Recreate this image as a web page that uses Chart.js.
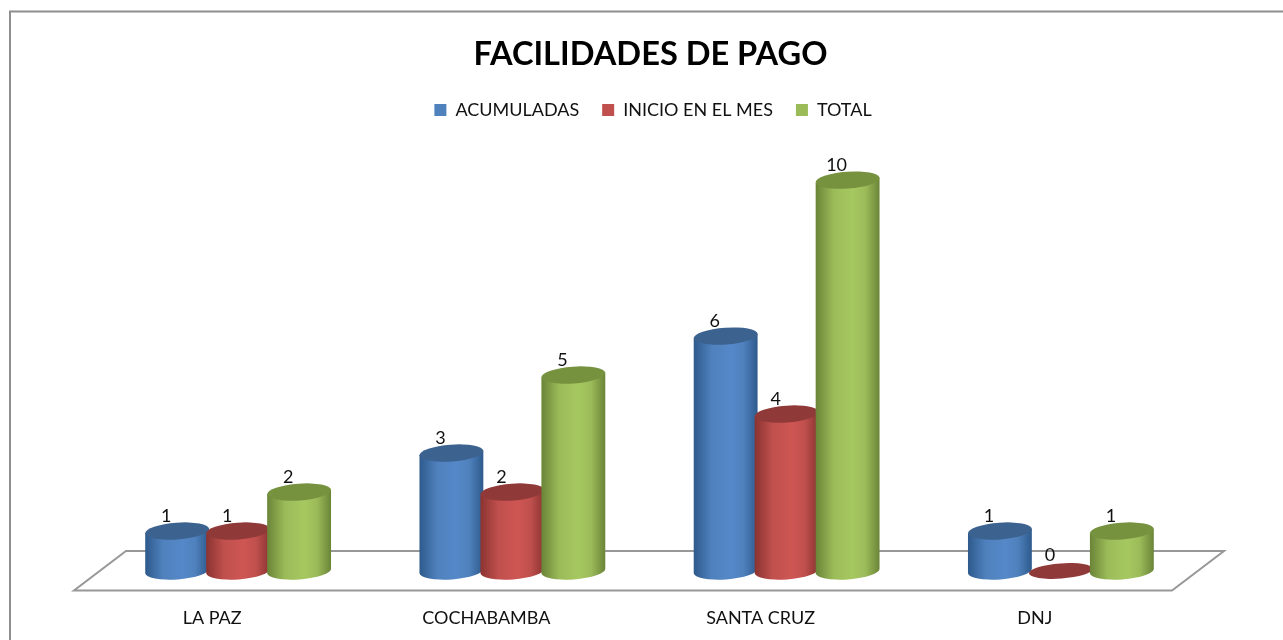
<!DOCTYPE html>
<html>
<head>
<meta charset="utf-8">
<style>html,body{margin:0;padding:0;background:#fff;overflow:hidden}canvas{display:block}</style>
<script src="https://cdn.jsdelivr.net/npm/chart.js@4/dist/chart.umd.min.js"></script>
</head>
<body>
<canvas id="c" width="1283" height="640"></canvas>
<script>
const titleText = "FACILIDADES DE PAGO";
const categories = ["LA PAZ", "COCHABAMBA", "SANTA CRUZ", "DNJ"];
const acumuladas = [1, 3, 6, 1];
const inicioEnElMes = [1, 2, 4, 0];
const total = [2, 5, 10, 1];
const FONT = "Lato, Carlito, sans-serif";

const palette = {
  "ACUMULADAS": {main:"#4F81BD", edge:"#2E5A8C", light:"#5588C8", top:"#3C628F"},
  "INICIO EN EL MES": {main:"#C0504D", edge:"#8A3331", light:"#CE5653", top:"#8F3A38"},
  "TOTAL": {main:"#9BBB59", edge:"#6A8437", light:"#A6C860", top:"#76923F"}
};

// Each bar element, positioned by the Chart.js scales, is painted as a cylinder
function cylinder(ctx, el, pal){
  const rx = el.width/2, ry = 8.4, tilt = -0.072;
  const dx = rx*Math.cos(tilt), dy = rx*Math.sin(tilt);
  const cx = el.x, top = el.y, base = el.base + 1;
  const tall = base - top > 2;
  ctx.save();
  if (tall) {
    const g = ctx.createLinearGradient(cx-rx, 0, cx+rx, 0);
    g.addColorStop(0, pal.edge);
    g.addColorStop(0.28, pal.main);
    g.addColorStop(0.58, pal.light);
    g.addColorStop(0.78, pal.main);
    g.addColorStop(1, pal.edge);
    ctx.fillStyle = g;
    ctx.beginPath();
    ctx.moveTo(cx-dx, top-dy);
    ctx.lineTo(cx-dx, base-dy);
    ctx.ellipse(cx, base, rx, ry, tilt, Math.PI, 0, true);
    ctx.lineTo(cx+dx, top+dy);
    ctx.closePath();
    ctx.fill();
  }
  ctx.fillStyle = pal.top;
  ctx.beginPath();
  ctx.ellipse(cx, tall ? top : base, rx, tall ? ry : 7.6, tilt, 0, Math.PI*2);
  ctx.fill();
  ctx.restore();
}
Chart.BarElement.prototype.draw = function(){};

const framePlugin = {
  id: "frame",
  beforeInit(chart){
    const fit = chart.legend.fit;
    chart.legend.fit = function(){ fit.call(this); this.height += 51; };
    const shift = (box, dx) => {
      const d = box.draw;
      box.draw = function(){ const c = this.ctx; c.save(); c.translate(dx, 0); d.call(this); c.restore(); };
    };
    shift(chart.legend, 3.5);
    shift(chart.titleBlock, 1);
  },
  beforeDatasetsDraw(chart){
    const {ctx, chartArea:a, scales:{y}} = chart;
    const y0 = y.getPixelForValue(0);
    ctx.save();
    ctx.strokeStyle = "#8E8E8E"; ctx.lineWidth = 2;
    ctx.beginPath(); ctx.moveTo(10, 640); ctx.lineTo(10, 11.5); ctx.lineTo(1283, 11.5); ctx.stroke();
    ctx.strokeStyle = "#989898"; ctx.lineWidth = 2;
    ctx.beginPath();
    ctx.moveTo(a.left-27, y0+20.5); ctx.lineTo(a.right-26, y0+20.5);
    ctx.lineTo(a.right+26, y0-19); ctx.lineTo(a.left+25, y0-19);
    ctx.closePath(); ctx.stroke();
    ctx.restore();
  },
  afterDatasetsDraw(chart){
    const {ctx} = chart;
    chart.data.datasets.forEach((ds, i) => {
      chart.getDatasetMeta(i).data.forEach(el => cylinder(ctx, el, palette[ds.label]));
    });
    ctx.save();
    ctx.font = "18px " + FONT; ctx.fillStyle = "#111"; ctx.textAlign = "center"; ctx.textBaseline = "middle";
    chart.data.datasets.forEach((ds, i) => {
      chart.getDatasetMeta(i).data.forEach((el, j) => {
        ctx.fillText(String(ds.data[j]), el.x - 11, el.y - 14.5);
      });
    });
    ctx.restore();
  }
};

const mk = (label, data) => ({label, data,
  backgroundColor: palette[label].main, borderWidth: 0, categoryPercentage: 0.667, barPercentage: 1.05});

new Chart(document.getElementById("c"), {
  type: "bar",
  data: { labels: categories, datasets: [
    mk("ACUMULADAS", acumuladas),
    mk("INICIO EN EL MES", inicioEnElMes),
    mk("TOTAL", total)
  ]},
  options: {
    responsive: false, animation: false,
    layout: { padding: {left: 101, right: 85, top: 0, bottom: 13} },
    plugins: {
      title: { display: true, text: titleText, color: "#000",
        font: {family: FONT, size: 32.6, weight: "bold"}, padding: {top: 35, bottom: 4} },
      legend: { position: "top", labels: { boxWidth: 12, boxHeight: 12, padding: 23, color: "#111",
        font: {family: FONT, size: 18} } },
      tooltip: {enabled: false}
    },
    scales: {
      x: { grid: {display: false, drawTicks: false}, border: {display: false},
        afterFit(s){ s.height = 57; },
        ticks: { color: "#111", padding: 37, labelOffset: -26, maxRotation: 0, font: {family: FONT, size: 18} } },
      y: { display: false, min: 0, max: 10 }
    }
  },
  plugins: [framePlugin]
});
</script>
</body>
</html>
